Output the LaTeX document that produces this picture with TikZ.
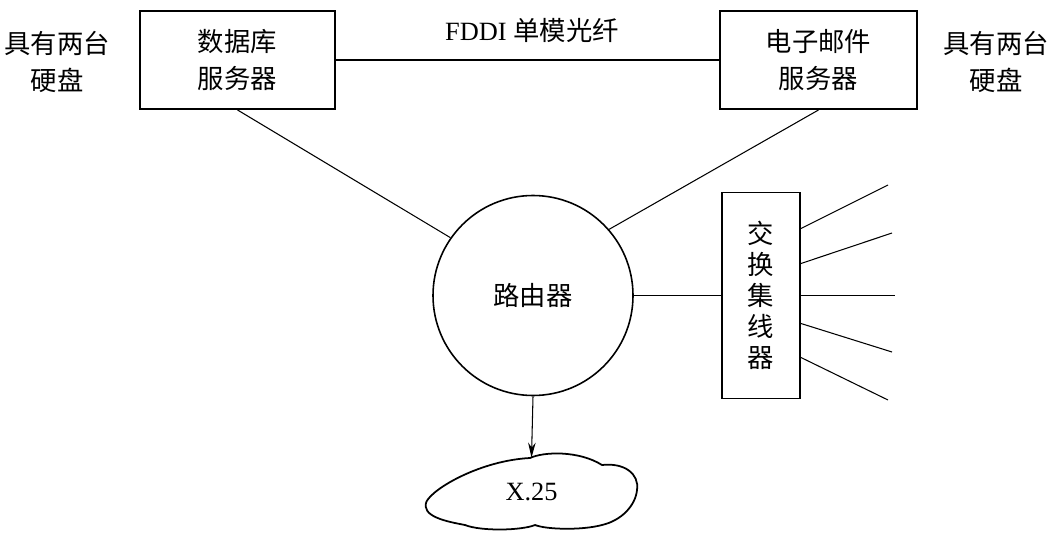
\documentclass[tikz,border=0pt]{standalone}
\usepackage{fontspec}
\setmainfont{Liberation Serif}
\newfontfamily\cjk{Noto Sans CJK SC}
\usetikzlibrary{positioning, arrows, arrows.meta}
\tikzset{
	>={Stealth[length=3mm, width=1.5mm]}, % puntas de flecha
	box/.style={draw, line width=1.1pt, align=center, font=\fontsize{15}{21}\selectfont\cjk},
	link/.style={line width=0.6pt},
	label text/.style={align=center, font=\fontsize{15}{21}\selectfont\cjk}
}

\begin{document}
\begin{tikzpicture}
	\useasboundingbox (0,0) rectangle (21.08,10.76);
	\node[box, minimum width=3.9cm, minimum height=1.96cm] (db) at (4.75,9.56) {数据库\\服务器};
	\node[box, minimum width=3.94cm, minimum height=1.96cm] (mail) at (16.37,9.56) {电子邮件\\服务器};
	\node[label text] (diskl) at (1.14,9.52) {具有两台\\硬盘};
	\node[label text] (diskr) at (19.92,9.52) {具有两台\\硬盘};
	\node[font=\fontsize{15}{21}\selectfont] (fddi) at (10.64,10.16) {FDDI {\cjk 单模光纤}};
	\node[draw, circle, line width=0.9pt, minimum size=4cm, font=\fontsize{15}{21}\selectfont\cjk] (router) at (10.66,4.85) {路由器};
	\node[box, minimum width=1.56cm, minimum height=4.12cm, font=\fontsize{15}{17.6}\selectfont\cjk] (hub) at (15.22,4.85) {交\\换\\集\\线\\器};
	\node[minimum width=4.2cm, minimum height=1.34cm, inner sep=0pt, font=\fontsize{15}{21}\selectfont] (x25) at (10.63,0.93) {X.25};
	% nube X.25
	\draw[line width=1pt, shift={(x25.center)}]
		(-2.10,-0.20) .. controls (-1.95,0.08) and (-1.0,0.62) .. (-0.03,0.67)
		.. controls (0.25,0.80) and (0.95,0.82) .. (1.41,0.53)
		.. controls (1.85,0.58) and (2.16,0.36) .. (2.11,0.03)
		.. controls (2.08,-0.28) and (1.80,-0.58) .. (1.41,-0.67)
		.. controls (1.00,-0.78) and (0.30,-0.76) .. (0.07,-0.67)
		.. controls (-0.20,-0.78) and (-1.00,-0.80) .. (-1.33,-0.67)
		.. controls (-1.70,-0.60) and (-2.22,-0.50) .. cycle;
	\coordinate (t1) at (17.76,7.06);
	\coordinate (t2) at (17.84,6.10);
	\coordinate (t3) at (17.90,4.85);
	\coordinate (t4) at (17.84,3.72);
	\coordinate (t5) at (17.76,2.76);
	\draw[link] (db.east) -- (mail.west);
	\draw[link] (db.south) -- (router.145);
	\draw[link] (mail.south) -- (router.41);
	\draw[link] (router.east) -- (hub.west);
	\draw[link, ->] (router.south) -- (x25.north);
	\draw[link] ([yshift=1.34cm]hub.east) -- (t1);
	\draw[link] ([yshift=0.64cm]hub.east) -- (t2);
	\draw[link] (hub.east) -- (t3);
	\draw[link] ([yshift=-0.56cm]hub.east) -- (t4);
	\draw[link] ([yshift=-1.24cm]hub.east) -- (t5);
\end{tikzpicture}
\end{document}
